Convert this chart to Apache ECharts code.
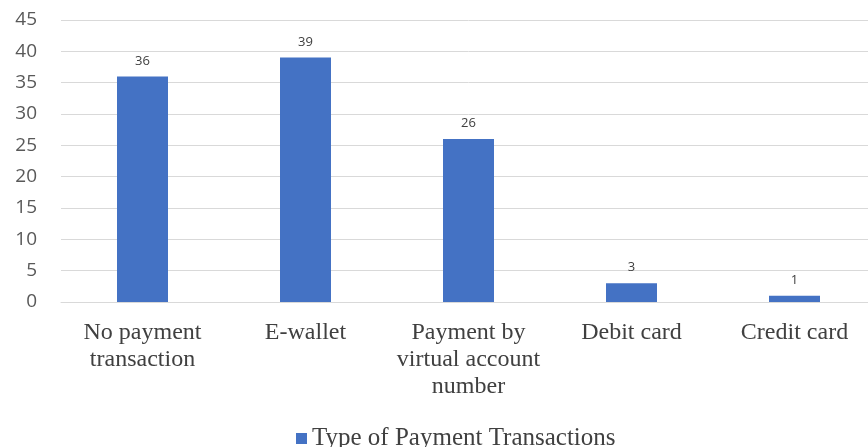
<!DOCTYPE html>
<html><head><meta charset="utf-8">
<style>html,body{margin:0;padding:0;background:#fff;overflow:hidden;width:868px;height:447px}#c{width:876px;height:447px}</style>
<script src="https://cdn.jsdelivr.net/npm/echarts@6/dist/echarts.min.js"></script>
</head><body><div id="c"></div>
<script>
const categories = ["No payment\ntransaction", "E-wallet", "Payment by\nvirtual account\nnumber", "Debit card", "Credit card"];
const values = [36, 39, 26, 3, 1];
const seriesName = "Type of Payment Transactions";
const yMin = 0, yMax = 45, yStep = 5;

const chart = echarts.init(document.getElementById('c'), null, {renderer: 'canvas'});
chart.setOption({
  animation: false,
  grid: {left: 61, right: 0, top: 20, bottom: 145, containLabel: false},
  legend: {
    data: [seriesName], top: 421, left: 291,
    itemWidth: 11, itemHeight: 11, itemGap: 6, icon: 'rect',
    textStyle: {fontFamily: 'Liberation Serif', fontSize: 25, color: '#404040'}
  },
  xAxis: {
    type: 'category', data: categories,
    axisLine: {lineStyle: {color: '#d9d9d9', width: 1}},
    axisTick: {show: false},
    axisLabel: {fontFamily: 'Liberation Serif', fontSize: 24, color: '#404040', lineHeight: 27, margin: 17, interval: 0}
  },
  yAxis: {
    type: 'value', min: yMin, max: yMax, interval: yStep,
    axisLine: {show: false}, axisTick: {show: false},
    splitLine: {lineStyle: {color: '#d9d9d9', width: 1}},
    axisLabel: {fontFamily: 'Open Sans', fontSize: 19, color: '#595959', margin: 24}
  },
  series: [{
    name: seriesName, type: 'bar', data: values, barWidth: 51,
    itemStyle: {color: '#4472c4'},
    label: {show: true, position: 'top', distance: 9, fontFamily: 'Open Sans', fontSize: 13, color: '#404040'}
  }]
});
</script></body></html>
